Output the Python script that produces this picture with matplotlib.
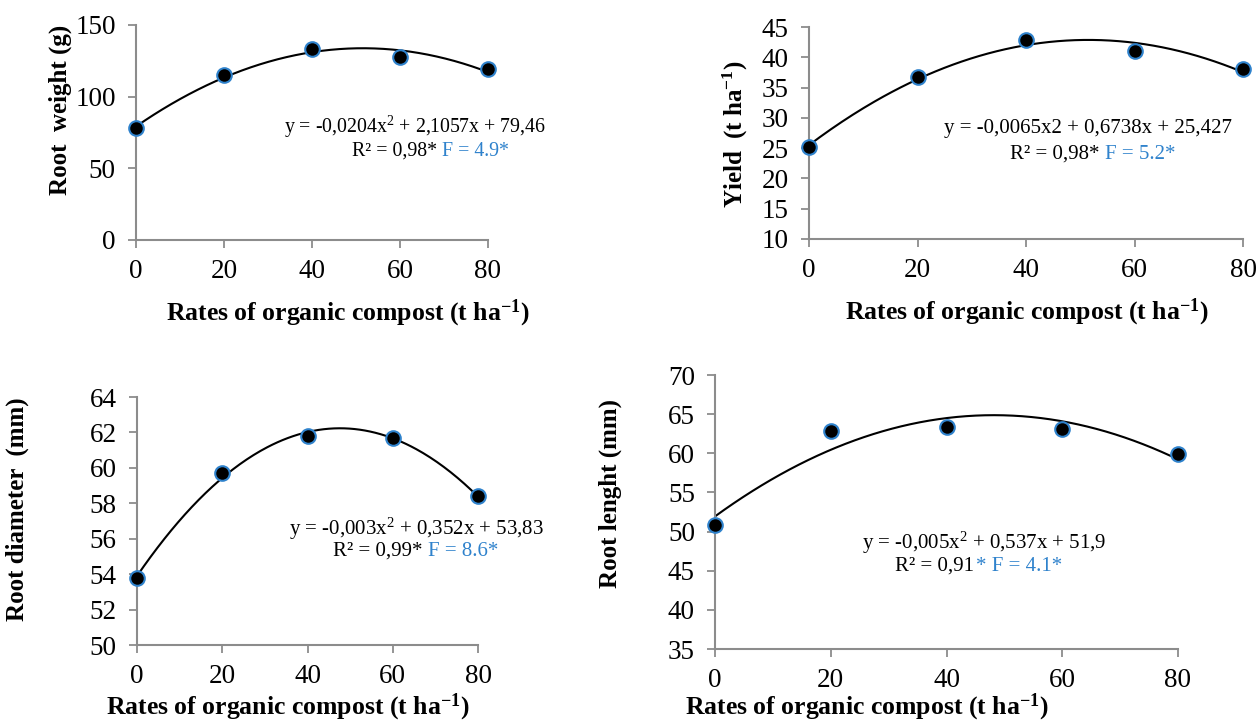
import numpy as np
import matplotlib
matplotlib.use("Agg")
import matplotlib.pyplot as plt

plt.rcParams['font.family'] = ['Liberation Serif', 'DejaVu Serif']
plt.rcParams['mathtext.fontset'] = 'custom'
plt.rcParams['mathtext.rm'] = 'Liberation Serif'
plt.rcParams['mathtext.it'] = 'Liberation Serif:italic'
plt.rcParams['mathtext.bf'] = 'Liberation Serif:bold'

# rates of organic compost (t ha-1)
rates = [0, 20, 40, 60, 80]

# measured values per panel
root_weight = [78, 115, 133, 128, 119]
yield_vals = [25.2, 36.7, 42.8, 41.0, 38.1]
root_diameter = [53.8, 59.7, 61.8, 61.7, 58.4]
root_length = [50.9, 62.9, 63.4, 63.1, 59.9]

ylabels = ["Root  weight (g)", "Yield  (t ha$^{\\mathbf{-1}}$)",
           "Root diameter  (mm)", "Root lenght (mm)"]
xlabel = "Rates of organic compost (t ha$^{\\mathbf{-1}}$)"

equations = ["y = -0,0204x$^{2}$ + 2,1057x + 79,46",
             "y = -0,0065x2 + 0,6738x + 25,427",
             "y = -0,003x$^{2}$ + 0,352x + 53,83",
             "y = -0,005x$^{2}$ + 0,537x + 51,9"]
r2_text = ["R² = 0,98*", "R² = 0,98*", "R² = 0,99*", "R² = 0,91"]
f_text = ["F = 4.9*", "F = 5.2*", "F = 8.6*", "* F = 4.1*"]

yticks = [np.arange(0, 151, 50), np.arange(10, 46, 5),
          np.arange(50, 65, 2), np.arange(35, 71, 5)]

BLUE = "#2f82cc"
GRAY = "#8c8c8c"

# layout (figure fractions), label coords, text anchors (data coords)
boxes = [[0.1081, 0.6676, 0.2798, 0.2978],
         [0.6431, 0.669, 0.345, 0.2936],
         [0.1089, 0.1066, 0.2711, 0.3435],
         [0.5684, 0.1011, 0.368, 0.3795]]
ylab_pos = [(-0.182, 0.605), (-0.136, 0.495), (-0.317, 0.546), (-0.201, 0.566)]
xlab_pos = [(0.602, -0.27), (0.502, -0.274), (0.443, -0.186), (0.328, -0.155)]
eq_pos = [(63.4, 78.8), (51.4, 28.3), (65.5, 56.58), (46.5, 48.54)]
r2_pos = [(68.4, 62.0), (53.6, 24.0), (66.9, 55.29), (44.8, 45.6)]
eq_size = [14.3, 15, 15, 15]

data = [root_weight, yield_vals, root_diameter, root_length]

fig = plt.figure(figsize=(12.58, 7.22), dpi=100)

for i in range(4):
    ax = fig.add_axes(boxes[i])
    y = data[i]
    coef = np.polyfit(rates, y, 2)
    xs = np.linspace(0, 80, 200)
    ax.plot(xs, np.polyval(coef, xs), color="black", lw=1.5, zorder=2)
    ax.plot(rates, y, "o", ms=10.5, mfc="black", mec=BLUE, mew=1.5,
            clip_on=False, zorder=3)

    ax.set_xlim(0, 80)
    ax.set_ylim(yticks[i][0], yticks[i][-1])
    ax.set_xticks(rates)
    ax.set_yticks(yticks[i])
    ax.tick_params(labelsize=19.5, length=5.5, width=1.3, color=GRAY)
    ax.tick_params(axis="y", pad=9)
    ax.tick_params(axis="x", pad=8)
    for s in ["top", "right"]:
        ax.spines[s].set_visible(False)
    for s in ["left", "bottom"]:
        ax.spines[s].set_color(GRAY)
        ax.spines[s].set_linewidth(1.5)

    ax.set_ylabel(ylabels[i], fontsize=18, fontweight="bold")
    ax.yaxis.set_label_coords(*ylab_pos[i])
    ax.set_xlabel(xlabel, fontsize=18.5, fontweight="bold")
    ax.xaxis.set_label_coords(*xlab_pos[i])

    fs = eq_size[i]
    ax.text(eq_pos[i][0], eq_pos[i][1], equations[i], fontsize=fs,
            ha="center", va="center")
    t1 = ax.text(r2_pos[i][0], r2_pos[i][1], r2_text[i], fontsize=fs,
                 ha="right", va="center")
    gap = 4 if i < 3 else 1
    ax.annotate(f_text[i], xy=(1, 0), xycoords=t1, xytext=(gap, 0),
                textcoords="offset points", fontsize=fs, color=BLUE,
                ha="left", va="bottom")

plt.savefig("out.png", dpi=100)
